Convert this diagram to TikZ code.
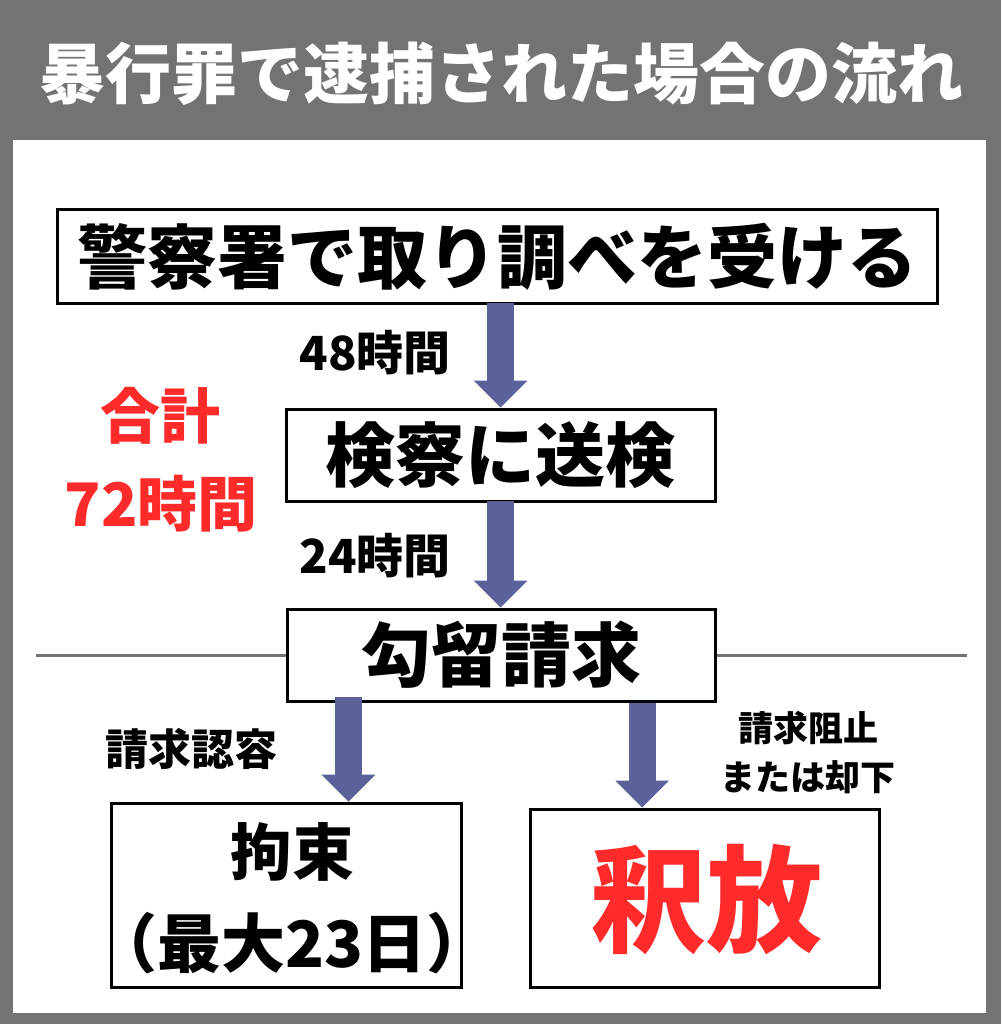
\documentclass[tikz,border=0pt]{standalone}
\usepackage{fontspec}
\setmainfont{Noto Sans CJK JP}
\usetikzlibrary{arrows.meta}
\definecolor{bggray}{HTML}{737373}
\definecolor{arrowblue}{HTML}{5D6199}
\definecolor{redtxt}{HTML}{FF2B2B}
\tikzset{
  stepbox/.style={draw=black, line width=3pt, fill=white, inner sep=0pt, font=\bfseries\fontsize{70}{84}\selectfont},
  bigarrow/.style={draw=arrowblue, line width=27pt, -{Triangle[width=54pt,length=27pt,line width=0pt]}},
  lbl/.style={inner sep=0pt, font=\bfseries\fontsize{#1}{#1}\selectfont},
}
\begin{document}
\begin{tikzpicture}[x=1pt,y=-1pt]
\useasboundingbox (0,0) rectangle (1001,1024);
\fill[bggray] (0,0) rectangle (1001,1024);
\fill[white] (13,140) rectangle (986,1013);
\node[lbl=66, text=white] (title) at (501,74) {暴行罪で逮捕された場合の流れ};
% divider line
\coordinate (hl) at (36,655);
\coordinate (hr) at (967,655);
\draw[bggray, line width=3pt] (hl) -- (hr);
% boxes
\node[stepbox, minimum width=880pt, minimum height=93pt] (police) at (497,256.5) {\raisebox{5pt}{警察署で取り調べを受ける}};
\node[stepbox, minimum width=429pt, minimum height=92pt] (kensatsu) at (500.5,455) {検察に送検};
\node[stepbox, minimum width=428pt, minimum height=92pt] (kouryuu) at (501,655) {\raisebox{4pt}{勾留請求}};
\node[draw=black, line width=3pt, fill=white, minimum width=350pt, minimum height=184pt] (kousoku) at (286,895) {};
\node[draw=black, line width=3pt, fill=white, minimum width=349pt, minimum height=178pt] (shakuhou) at (704.5,898) {};
% box texts
\node[lbl=62] (kousokuA) at (292,852) {拘束};
\node[lbl=64] (kousokuB) at (292,943) {（最大23日）};
\node[lbl=116, text=redtxt] (shakuhouT) at (706,900) {釈放};
% labels
\node[lbl=47] (h48) at (375,353) {48時間};
\node[lbl=47] (h24) at (375,556) {24時間};
\node[lbl=60, text=redtxt] (goukei) at (160,416) {合計};
\node[lbl=60, text=redtxt] (h72) at (161,504) {72時間};
\node[lbl=43] (ninyou) at (191,749) {請求認容};
\node[lbl=35] (soshi) at (808,728) {請求阻止};
\node[lbl=35] (kyakka) at (808,777) {または却下};
% arrows
\coordinate (a1s) at (500.5,303);
\coordinate (a2s) at (500.5,501);
\coordinate (a3s) at (348.5,697);
\coordinate (a4s) at (642,703);
\draw[bigarrow] (a1s) -- (a1s |- kensatsu.north);
\draw[bigarrow] (a2s) -- (a2s |- kouryuu.north);
\draw[bigarrow] (a3s) -- (a3s |- kousoku.north);
\draw[bigarrow] (a4s) -- (a4s |- shakuhou.north);
\end{tikzpicture}
\end{document}
